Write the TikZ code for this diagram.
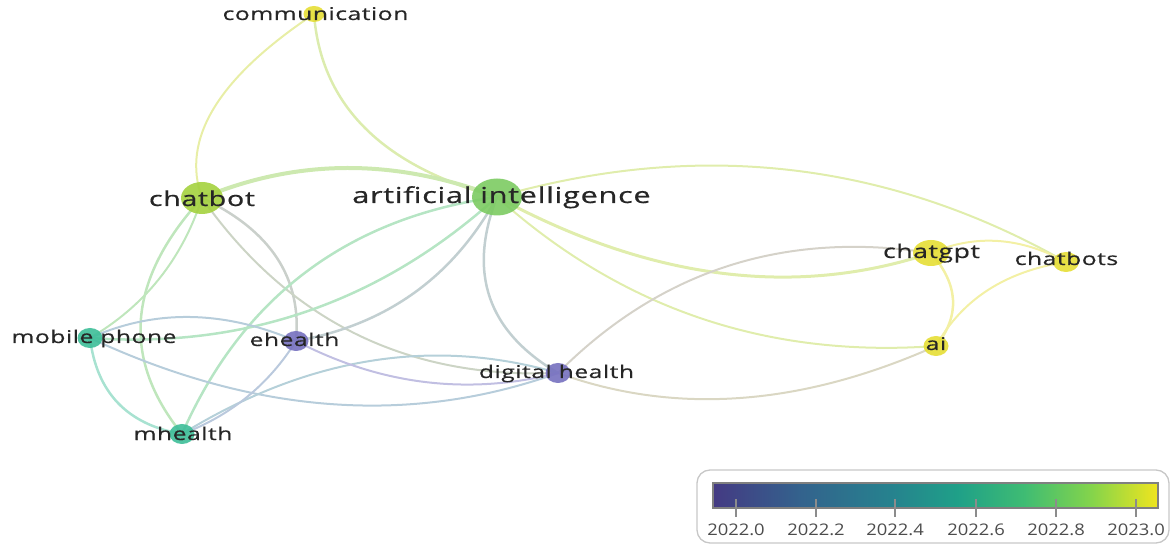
\documentclass[tikz,border=0pt]{standalone}
\usepackage{fontspec}
\setmainfont{Open Sans}[FakeStretch=1.4, LetterSpace=3, FakeBold=0.6]
\newfontfamily\legfont{Open Sans}[FakeStretch=1.15]
\usetikzlibrary{shapes.geometric,calc}
\definecolor{Y}{HTML}{E5DE35}
\definecolor{LG}{HTML}{A4D13E}
\definecolor{G}{HTML}{7CCB62}
\definecolor{T}{HTML}{3DBE98}
\definecolor{P}{HTML}{7670BF}
\definecolor{v0}{HTML}{443A83}
\definecolor{v1}{HTML}{33638D}
\definecolor{v2}{HTML}{26828E}
\definecolor{v3}{HTML}{1FA088}
\definecolor{v4}{HTML}{3FBC73}
\definecolor{v5}{HTML}{84D44B}
\definecolor{v6}{HTML}{F0E51E}
\pgfdeclarehorizontalshading{viridis}{100bp}{color(0bp)=(v0); color(25bp)=(v0); color(35bp)=(v1); color(45bp)=(v2); color(52.5bp)=(v3); color(60bp)=(v4); color(67.5bp)=(v5); color(75bp)=(v6); color(100bp)=(v6)}
\pgfdeclarelayer{bg}
\pgfsetlayers{bg,main}
\tikzset{
  dot/.style={ellipse, inner sep=0pt, draw=none, fill opacity=0.9},
  lbl/.style={anchor=base, inner sep=0pt, text=black!85},
  ed/.style={line width=2pt, line cap=round, draw=#1!45!white},
  tick/.style={draw=black!45, line width=1.5pt},
  ticklbl/.style={anchor=base, inner sep=0pt, text=black!70, font=\legfont\fontsize{16}{18}\selectfont}
}
% quadratic-like arc: #1 options, #2 start node, #3 quadratic control point, #4 end node
\newcommand\qarc[4][]{\draw[#1] (#2.center) .. controls ($(#2.center)!0.6667!(#3)$) and ($(#4.center)!0.6667!(#3)$) .. (#4.center);}
\begin{document}
\begin{tikzpicture}[x=1pt, y=-1pt]
\useasboundingbox (0,0) rectangle (1171,545);
% nodes
\node[dot, fill=Y, minimum width=21pt, minimum height=16pt] (com) at (314,14) {};
\node[dot, fill=LG, minimum width=42pt, minimum height=32pt] (cb) at (202,198) {};
\node[dot, fill=G, minimum width=50pt, minimum height=37pt] (AI) at (497,197) {};
\node[dot, fill=Y, minimum width=36pt, minimum height=26pt] (gpt) at (931,253) {};
\node[dot, fill=Y, minimum width=26pt, minimum height=20pt] (cbs) at (1066,262) {};
\node[dot, fill=Y, minimum width=25pt, minimum height=20pt] (ai) at (936,346) {};
\node[dot, fill=T, minimum width=25pt, minimum height=20pt] (mp) at (90,338) {};
\node[dot, fill=P, minimum width=25pt, minimum height=20pt] (eh) at (296,341) {};
\node[dot, fill=P, minimum width=25pt, minimum height=20pt] (dh) at (558,373) {};
\node[dot, fill=T, minimum width=25pt, minimum height=20pt] (mh) at (182,434) {};
% labels
\node[lbl, font=\fontsize{17.6}{20}\selectfont] (com-l) at (315.5,20) {communication};
\node[lbl, font=\fontsize{20.5}{23}\selectfont] (cb-l) at (202,206) {chatbot};
\node[lbl, font=\fontsize{22}{25}\selectfont] (AI-l) at (501.5,203) {artificial intelligence};
\node[lbl, font=\fontsize{19}{22}\selectfont] (gpt-l) at (931.5,258) {chatgpt};
\node[lbl, font=\fontsize{17.6}{20}\selectfont] (cbs-l) at (1066.5,265) {chatbots};
\node[lbl, font=\fontsize{17.6}{20}\selectfont] (ai-l) at (936,350) {ai};
\node[lbl, font=\fontsize{17.6}{20}\selectfont] (mp-l) at (94,343) {mobile phone};
\node[lbl, font=\fontsize{17.6}{20}\selectfont] (eh-l) at (294.5,346) {ehealth};
\node[lbl, font=\fontsize{17.6}{20}\selectfont] (dh-l) at (556.5,378) {digital health};
\node[lbl, font=\fontsize{17.6}{20}\selectfont] (mh-l) at (183,440) {mhealth};
% edges
\begin{pgfonlayer}{bg}
\qarc[ed=Y!60!LG]{com}{170,110}{cb}
\qarc[ed=Y!50!G, line width=2.5pt]{com}{324.5,150.5}{AI}
\qarc[ed=LG!50!G, line width=4pt]{cb}{344.5,138.5}{AI}
\qarc[ed=G!40!Y]{AI}{798.5,110.5}{cbs}
\qarc[ed=G!40!Y, line width=3pt]{AI}{726,321}{gpt}
\qarc[ed=G!40!Y]{AI}{683.5,364.5}{ai}
\qarc[ed=Y]{gpt}{997.5,224.5}{cbs}
\qarc[ed=Y, line width=2.5pt]{gpt}{972.5,300.5}{ai}
\qarc[ed=Y]{cbs}{975,276}{ai}
\qarc[ed=Y!40!P]{gpt}{711.5,219}{dh}
\qarc[ed=Y!50!P]{ai}{733,436.5}{dh}
\qarc[ed=LG!50!T]{cb}{172,290}{mp}
\qarc[ed=LG!50!T, line width=2.5pt]{cb}{90,320}{mh}
\qarc[ed=LG!40!P, line width=2.5pt]{cb}{305,246.5}{eh}
\qarc[ed=LG!50!P]{cb}{332,382.5}{dh}
\qarc[ed=G!50!T, line width=2.5pt]{AI}{322.5,354.5}{mp}
\qarc[ed=G!40!P, line width=2.5pt]{AI}{431.5,317}{eh}
\qarc[ed=G!50!T, line width=2.5pt]{AI}{272.5,228.5}{mh}
\qarc[ed=G!40!P, line width=2.5pt]{AI}{452.5,311}{dh}
\qarc[ed=T!40!P]{mp}{187,294.5}{eh}
\qarc[ed=T, line width=2.5pt]{mp}{100,420}{mh}
\qarc[ed=T!40!P]{mp}{336,452.5}{dh}
\qarc[ed=T!50!P]{mh}{370,318.5}{dh}
\qarc[ed=T!30!P]{mh}{255,406.5}{eh}
\qarc[ed=P]{eh}{423,407}{dh}
\end{pgfonlayer}
% legend
\draw[rounded corners=13pt, draw=black!22, line width=1.3pt] (697,470) rectangle (1169,543);
\shade[shading=viridis] (713,483) rectangle (1158,508);
\draw[draw=black!50, line width=1.2pt] (713,483) rectangle (1158,508);
\foreach \x/\t in {736/2022.0, 816/2022.2, 895/2022.4, 976/2022.6, 1056/2022.8, 1136/2023.0} {
  \draw[tick] (\x,499) -- (\x,517);
  \node[ticklbl] at (\x,535) {\t};
}
\end{tikzpicture}
\end{document}
